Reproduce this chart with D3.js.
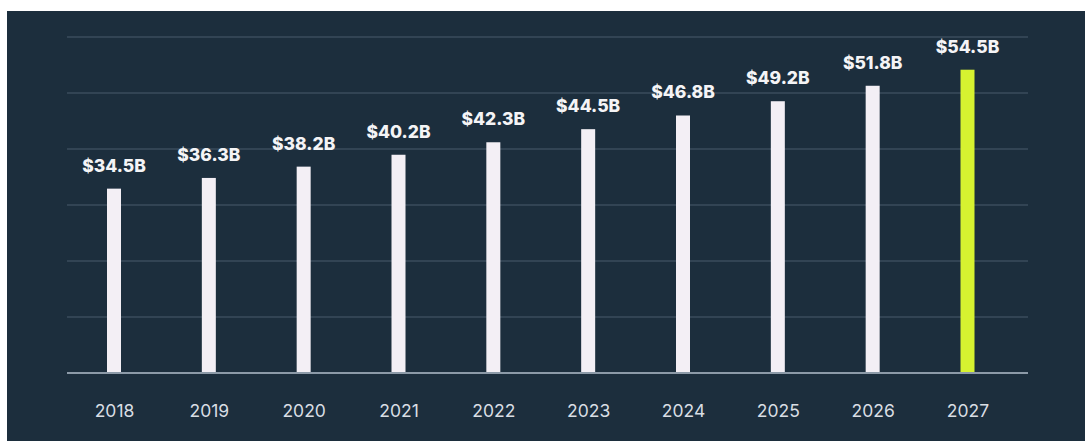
<!DOCTYPE html>
<html>
<head>
<meta charset="utf-8">
<script src="https://cdn.jsdelivr.net/npm/d3@7"></script>
<style>
  html, body { margin: 0; padding: 0; background: #ffffff; }
  svg { display: block; }
</style>
</head>
<body>
<svg width="1085" height="441"></svg>
<script>
var years = ['2018', '2019', '2020', '2021', '2022', '2023', '2024', '2025', '2026', '2027'];
var values = [34.5, 36.3, 38.2, 40.2, 42.3, 44.5, 46.8, 49.2, 51.8, 54.5];
var labels = ['$34.5B', '$36.3B', '$38.2B', '$40.2B', '$42.3B', '$44.5B', '$46.8B', '$49.2B', '$51.8B', '$54.5B'];
var highlightYear = '2027';
var gridSteps = [0, 1, 2, 3, 4, 5, 6];

var svg = d3.select('svg');
var W = +svg.attr('width'), H = +svg.attr('height');

// dark panel (white strip on top and left as in the picture)
svg.append('rect')
    .attr('x', 7).attr('y', 11)
    .attr('width', W - 7).attr('height', H - 11)
    .attr('fill', '#1c2e3d');

var left = 67, right = 1028, baseY = 373, topY = 37;

var x = d3.scalePoint()
    .domain(years)
    .range([114, 967.5]);

var y = d3.scaleLinear()
    .domain([3.5, 60])
    .range([baseY, topY]);

var grid = d3.scaleLinear().domain([0, 6]).range([baseY, topY]);

// gridlines
svg.append('g').selectAll('line')
    .data(gridSteps.slice(1))
  .enter().append('line')
    .attr('x1', left).attr('x2', right)
    .attr('y1', function(d){ return grid(d); })
    .attr('y2', function(d){ return grid(d); })
    .attr('stroke', '#3a4d5d')
    .attr('stroke-width', 1.5);

// bars
var barW = 14;
svg.append('g').selectAll('rect')
    .data(values)
  .enter().append('rect')
    .attr('x', function(d, i){ return x(years[i]) - barW/2; })
    .attr('y', function(d){ return y(d); })
    .attr('width', barW)
    .attr('height', function(d){ return baseY - y(d); })
    .attr('fill', function(d, i){ return years[i] === highlightYear ? '#d6f230' : '#f3eff5'; });

// baseline
svg.append('line')
    .attr('x1', left).attr('x2', right)
    .attr('y1', baseY).attr('y2', baseY)
    .attr('stroke', '#8c9aa8')
    .attr('stroke-width', 2);

// value labels
svg.append('g').selectAll('text')
    .data(values)
  .enter().append('text')
    .attr('x', function(d, i){ return x(years[i]); })
    .attr('y', function(d){ return y(d) - 17; })
    .attr('text-anchor', 'middle')
    .attr('font-family', 'Inter, "Open Sans", sans-serif')
    .attr('font-weight', 800)
    .attr('font-size', 17.5)
    .attr('fill', '#f4f4f6')
    .text(function(d, i){ return labels[i]; });

// x axis
var xAxis = svg.append('g')
    .attr('transform', 'translate(0,' + baseY + ')')
    .call(d3.axisBottom(x).tickSize(0).tickPadding(32));
xAxis.select('.domain').remove();
xAxis.selectAll('text')
    .attr('font-family', 'Inter, "Open Sans", sans-serif')
    .attr('font-size', 17.5)
    .attr('fill', '#d9dee4');
</script>
</body>
</html>
